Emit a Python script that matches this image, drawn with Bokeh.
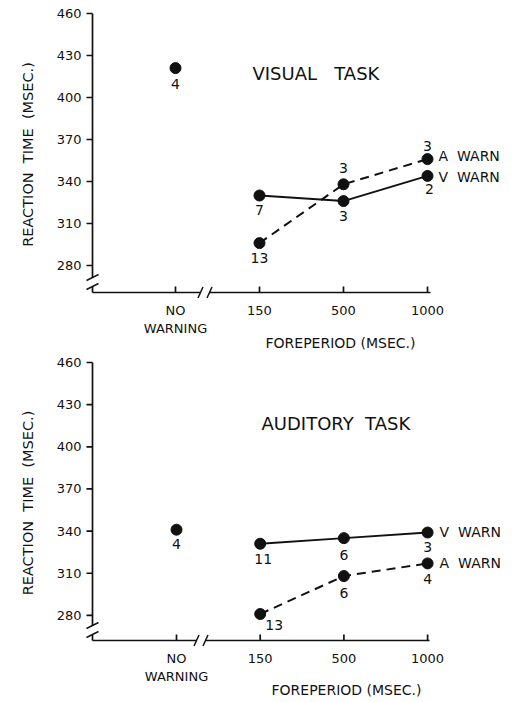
from bokeh.plotting import figure
from bokeh.layouts import column
from bokeh.models import Range1d, FixedTicker, Label, ColumnDataSource, Title
from bokeh.embed import file_html
from bokeh.resources import INLINE
from bokeh.core.properties import value

# ---------------- data ----------------
x_slots = [0, 1, 2, 3]
x_tick_labels = ["NO\nWARNING", "150", "500", "1000"]
y_ticks = [280, 310, 340, 370, 400, 430, 460]

visual_no_warn = 421
visual_no_warn_n = "4"
visual_v_warn = [330, 326, 344]
visual_v_warn_n = ["7", "3", "2"]
visual_a_warn = [296, 338, 356]
visual_a_warn_n = ["13", "3", "3"]

auditory_no_warn = 341
auditory_no_warn_n = "4"
auditory_v_warn = [331, 335, 339]
auditory_v_warn_n = ["11", "6", "3"]
auditory_a_warn = [281, 308, 317]
auditory_a_warn_n = ["13", "6", "4"]

# ---------------- styles / layout (pixels) ----------------
FONT = "DejaVu Sans"
INK = "#111111"
NB = "\u00a0"
W = 517

visual_layout = dict(H=350, yaxis_x=92, slot0_x=175, unit=84, y460=13, ppu=1.4, xaxis_y=292,
                     pad=9, right=512, ybreak=(6, 15), xbreak=(25, 34), x_end_px=428,
                     title_x=252, title_y=73, xlabel_x=265, xlabel_standoff=-12)
auditory_layout = dict(H=352, yaxis_x=89, slot0_x=173, unit=83.7, y460=12, ppu=1.405, xaxis_y=290,
                       pad=9, right=512, ybreak=(6, 15), xbreak=(20, 29), x_end_px=424,
                       title_x=258, title_y=73, xlabel_x=268, xlabel_standoff=-13)

# label offsets in px (dx, dy), positive dy = down
visual_offsets = dict(nw=(0, 16), v=[(0, 14), (0, 15), (2, 13)], a=[(0, 15), (0, -16), (0, -13)],
                      v_name=(11, 1), a_name=(11, -3))
auditory_offsets = dict(nw=(0, 14), v=[(3, 15), (0, 17), (0, 14)], a=[(14, 11), (0, 17), (0, 16)],
                        v_name=(12, -1), a_name=(12, 0))


def panel(title, nw_val, nw_n, v_vals, v_n, a_vals, a_n, L, off):
    unit, ppu = L["unit"], L["ppu"]
    f_left = L["yaxis_x"] - L["pad"]
    f_top = L["y460"] - 6
    f_bottom = L["xaxis_y"] + L["pad"]
    fw = L["right"] - f_left
    fh = f_bottom - f_top
    x0 = (f_left - L["slot0_x"]) / unit
    x1 = x0 + fw / unit
    y1 = y_ticks[-1] + (L["y460"] - f_top) / ppu
    y0 = y1 - fh / ppu

    p = figure(frame_width=fw, frame_height=fh,
               min_border_left=f_left, min_border_right=W - L["right"],
               min_border_top=f_top, min_border_bottom=L["H"] - f_bottom,
               x_range=Range1d(x0, x1), y_range=Range1d(y0, y1),
               output_backend="svg", toolbar_location=None)
    p.outline_line_color = None
    p.xgrid.visible = False
    p.ygrid.visible = False
    p.background_fill_color = "white"
    p.border_fill_color = "white"

    # axes provide tick labels; lines/ticks drawn as glyphs so the axes can be broken
    xa = p.xaxis[0]
    xa.ticker = FixedTicker(ticks=x_slots)
    xa.major_label_overrides = {k: v for k, v in zip(x_slots, x_tick_labels)}
    xa.axis_line_color = None
    xa.major_tick_line_color = None
    xa.minor_tick_line_color = None
    xa.major_tick_in = 0
    xa.major_tick_out = 0
    xa.major_label_standoff = 1
    xa.major_label_text_font = FONT
    xa.major_label_text_font_size = "13px"
    xa.major_label_text_color = INK

    ya = p.yaxis[0]
    ya.ticker = FixedTicker(ticks=y_ticks)
    ya.axis_line_color = None
    ya.major_tick_line_color = None
    ya.minor_tick_line_color = None
    ya.major_tick_in = 0
    ya.major_tick_out = 0
    ya.major_label_standoff = 2
    ya.major_label_text_font = FONT
    ya.major_label_text_font_size = "13px"
    ya.major_label_text_color = INK
    ya.axis_label = f"REACTION{NB}{NB}TIME{NB}{NB}(MSEC.)"
    ya.axis_label_text_font = FONT
    ya.axis_label_text_font_style = "normal"
    ya.axis_label_text_font_size = "14.5px"
    ya.axis_label_text_color = INK
    ya.axis_label_standoff = 18

    # axis geometry in data space
    ax_x = (L["yaxis_x"] - L["slot0_x"]) / unit
    ax_y = y_ticks[-1] - (L["xaxis_y"] - L["y460"]) / ppu
    yb_lo = ax_y + L["ybreak"][0] / ppu
    yb_hi = ax_y + L["ybreak"][1] / ppu
    xb_lo = L["xbreak"][0] / unit
    xb_hi = L["xbreak"][1] / unit
    x_end = (L["x_end_px"] - L["slot0_x"]) / unit + 2 / unit

    lw = 1.7
    # y axis: main part and stub below the break
    p.segment(x0=[ax_x, ax_x], y0=[yb_hi, ax_y], x1=[ax_x, ax_x], y1=[y_ticks[-1], yb_lo],
              line_color=INK, line_width=lw)
    # x axis: part left of the break and main part
    p.segment(x0=[ax_x, xb_hi], y0=[ax_y, ax_y], x1=[xb_lo, x_end], y1=[ax_y, ax_y],
              line_color=INK, line_width=lw)
    # y ticks (outward) and x ticks (inward)
    tick = 6
    p.segment(x0=[ax_x - tick / unit] * len(y_ticks), y0=y_ticks, x1=[ax_x] * len(y_ticks), y1=y_ticks,
              line_color=INK, line_width=lw)
    p.segment(x0=x_slots, y0=[ax_y] * len(x_slots), x1=x_slots, y1=[ax_y + tick / ppu] * len(x_slots),
              line_color=INK, line_width=lw)
    # break marks
    p.segment(x0=[ax_x - 6 / unit] * 2, y0=[yb_lo - 3 / ppu, yb_hi - 3 / ppu],
              x1=[ax_x + 6 / unit] * 2, y1=[yb_lo + 3 / ppu, yb_hi + 3 / ppu],
              line_color=INK, line_width=1.5)
    p.segment(x0=[xb_lo - 2.5 / unit, xb_hi - 2.5 / unit], y0=[ax_y - 5.5 / ppu] * 2,
              x1=[xb_lo + 2.5 / unit, xb_hi + 2.5 / unit], y1=[ax_y + 5.5 / ppu] * 2,
              line_color=INK, line_width=1.5)

    xs = x_slots[1:]
    p.line(xs, v_vals, line_width=2, line_color=INK)
    p.line(xs, a_vals, line_width=2, line_color=INK, line_dash="9 6")
    p.scatter(xs, v_vals, size=11, fill_color=INK, line_color=INK)
    p.scatter(xs, a_vals, size=11, fill_color=INK, line_color=INK)
    p.scatter([x_slots[0]], [nw_val], size=11, fill_color=INK, line_color=INK)

    # n-labels
    lx = [x_slots[0]] + xs + xs
    ly = [nw_val] + list(v_vals) + list(a_vals)
    lt = [nw_n] + list(v_n) + list(a_n)
    offs = [off["nw"]] + off["v"] + off["a"]
    src = ColumnDataSource(dict(x=lx, y=ly, t=lt, dx=[o[0] for o in offs], dy=[o[1] for o in offs]))
    p.text(x="x", y="y", text="t", x_offset="dx", y_offset="dy", source=src,
           text_align="center", text_baseline="middle", text_font=value(FONT),
           text_font_size="14px", text_color=INK)

    # series names
    nsrc = ColumnDataSource(dict(x=[xs[-1], xs[-1]], y=[v_vals[-1], a_vals[-1]],
                                 t=[f"V{NB}{NB}WARN", f"A{NB}{NB}WARN"],
                                 dx=[off["v_name"][0], off["a_name"][0]],
                                 dy=[off["v_name"][1], off["a_name"][1]]))
    p.text(x="x", y="y", text="t", x_offset="dx", y_offset="dy", source=nsrc,
           text_align="left", text_baseline="middle", text_font=value(FONT),
           text_font_size="14px", text_color=INK)

    # panel title
    p.add_layout(Label(x=(L["title_x"] - L["slot0_x"]) / unit,
                       y=y_ticks[-1] - (L["title_y"] - L["y460"]) / ppu,
                       text=title, text_align="left", text_baseline="middle",
                       text_font=FONT, text_font_size="18px", text_color=INK))
    # x-axis caption
    p.add_layout(Title(text=f"FOREPERIOD{NB}(MSEC.)", align="left", offset=L["xlabel_x"] - f_left,
                       standoff=L["xlabel_standoff"], text_font=FONT, text_font_size="14px",
                       text_font_style="normal", text_color=INK), "below")
    return p


p1 = panel(f"VISUAL{NB}{NB}{NB}TASK", visual_no_warn, visual_no_warn_n, visual_v_warn, visual_v_warn_n,
           visual_a_warn, visual_a_warn_n, visual_layout, visual_offsets)
p2 = panel(f"AUDITORY{NB}{NB}TASK", auditory_no_warn, auditory_no_warn_n, auditory_v_warn,
           auditory_v_warn_n, auditory_a_warn, auditory_a_warn_n, auditory_layout, auditory_offsets)

layout = column(p1, p2, spacing=0)
open("out.html", "w").write(file_html(layout, INLINE))
